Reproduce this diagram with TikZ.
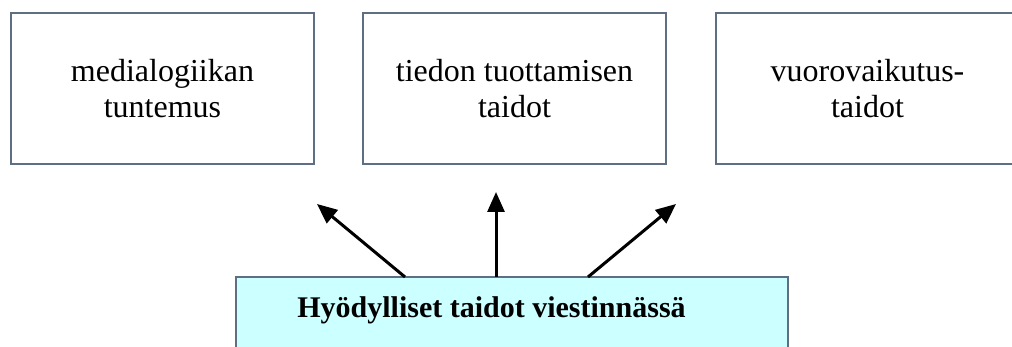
\documentclass[tikz,border=0pt]{standalone}
\usepackage{fontspec}
\setmainfont{Liberation Serif}
\usetikzlibrary{arrows.meta}
\definecolor{edge}{HTML}{5F6E82}
\definecolor{paleaqua}{HTML}{CCFFFF}
\begin{document}
\begin{tikzpicture}[x=1pt,y=-1pt,
  skillbox/.style={draw=edge,line width=1.5pt,fill=white,minimum width=303pt,
    minimum height=151pt,inner sep=0pt,align=center,
    font=\fontsize{32}{36}\selectfont},
  basebox/.style={draw=edge,line width=1.5pt,fill=paleaqua,minimum width=552pt,
    minimum height=100pt,inner sep=0pt},
  linkarrow/.style={line width=3pt,-{Triangle[length=20pt,width=17pt]}}]
\useasboundingbox (0,0) rectangle (1012,347);
\clip (0,0) rectangle (1012,347);

% three skill areas
\node[skillbox] (media) at (162.5,88.5) {medialogiikan\\tuntemus};
\node[skillbox] (tieto) at (514.5,88.5) {tiedon tuottamisen\\taidot};
\node[skillbox] (vuoro) at (867.5,88.5) {vuorovaikutus-\\taidot};

% base box
\node[basebox] (hyod) at (512,327) {};
\node[font=\fontsize{30}{36}\selectfont\bfseries,anchor=base,inner sep=0pt]
  (hyodtext) at (491.5,317) {Hyödylliset taidot viestinnässä};

% arrow ends
\coordinate (s1) at (405,277);
\coordinate (s2) at (496,277);
\coordinate (s3) at (588,277);
\coordinate (t1) at (317,204);
\coordinate (t2) at (496,192);
\coordinate (t3) at (676,204);

\draw[linkarrow] (s1) -- (t1);
\draw[linkarrow] (s2) -- (t2);
\draw[linkarrow] (s3) -- (t3);
\end{tikzpicture}
\end{document}
